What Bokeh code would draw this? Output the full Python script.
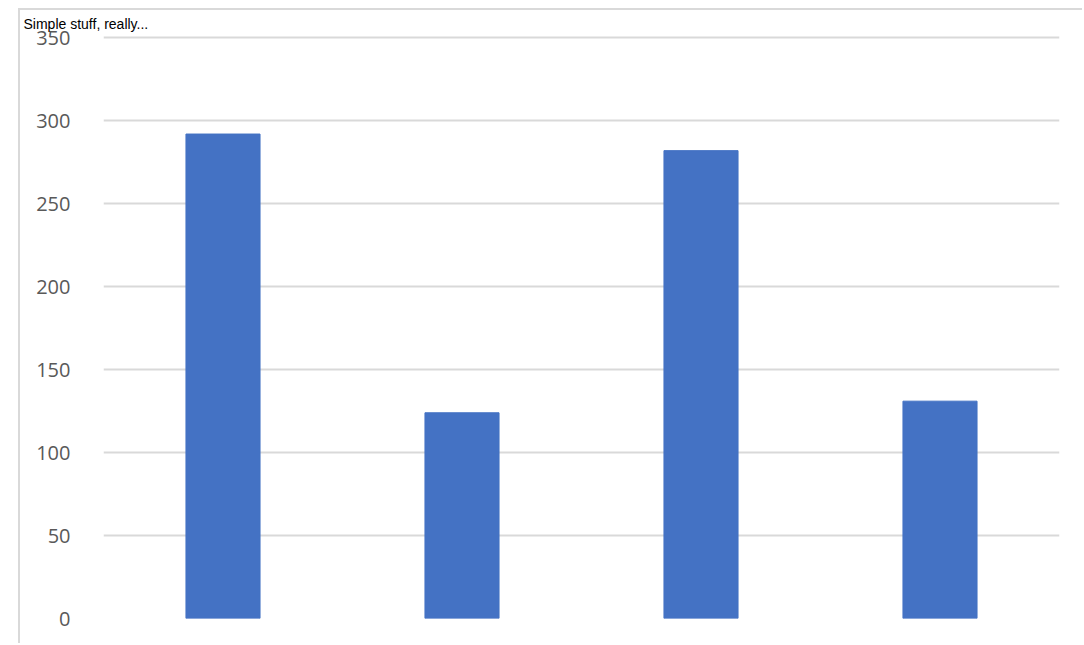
from bokeh.plotting import figure
from bokeh.models import FactorRange, Range1d, FixedTicker, ColumnDataSource
from bokeh.embed import file_html
from bokeh.resources import INLINE

title_text = "Simple stuff, really..."
categories = ["A", "B", "C", "D"]
values = [292, 124, 282, 131]
y_ticks = [0, 50, 100, 150, 200, 250, 300, 350]

src = ColumnDataSource(dict(cat=categories, val=values))

p = figure(width=1064, height=635, x_range=FactorRange(*categories, range_padding=0),
           y_range=Range1d(0, 352), output_backend="svg", toolbar_location=None,
           min_border_left=83, min_border_right=25, min_border_top=0, min_border_bottom=27,
           title=title_text)
p.margin = (8, 0, 0, 18)
p.styles = {"border-left": "2px solid #d9d9d9", "border-top": "2px solid #d9d9d9"}
p.outline_line_color = None
p.background_fill_color = "white"
p.border_fill_color = "white"

p.title.text_font = "Liberation Sans"
p.title.text_font_size = "14px"
p.title.text_font_style = "normal"
p.title.text_color = "black"
p.title.align = "left"
p.title.standoff = 6
p.title.offset = -80

p.vbar(x="cat", top="val", width=0.31, source=src, fill_color="#4472C4", line_color="#4472C4")

p.xaxis.visible = False
p.xgrid.grid_line_color = None
p.ygrid.grid_line_color = "#d9d9d9"
p.ygrid.grid_line_width = 2
p.yaxis.ticker = FixedTicker(ticks=y_ticks)
p.yaxis.axis_line_color = None
p.yaxis.major_tick_line_color = None
p.yaxis.minor_tick_line_color = None
p.yaxis.major_label_standoff = 27
p.yaxis.major_label_text_font = "Open Sans"
p.yaxis.major_label_text_font_size = "20px"
p.yaxis.major_label_text_color = "#595959"

open("out.html", "w").write(file_html(p, INLINE))
